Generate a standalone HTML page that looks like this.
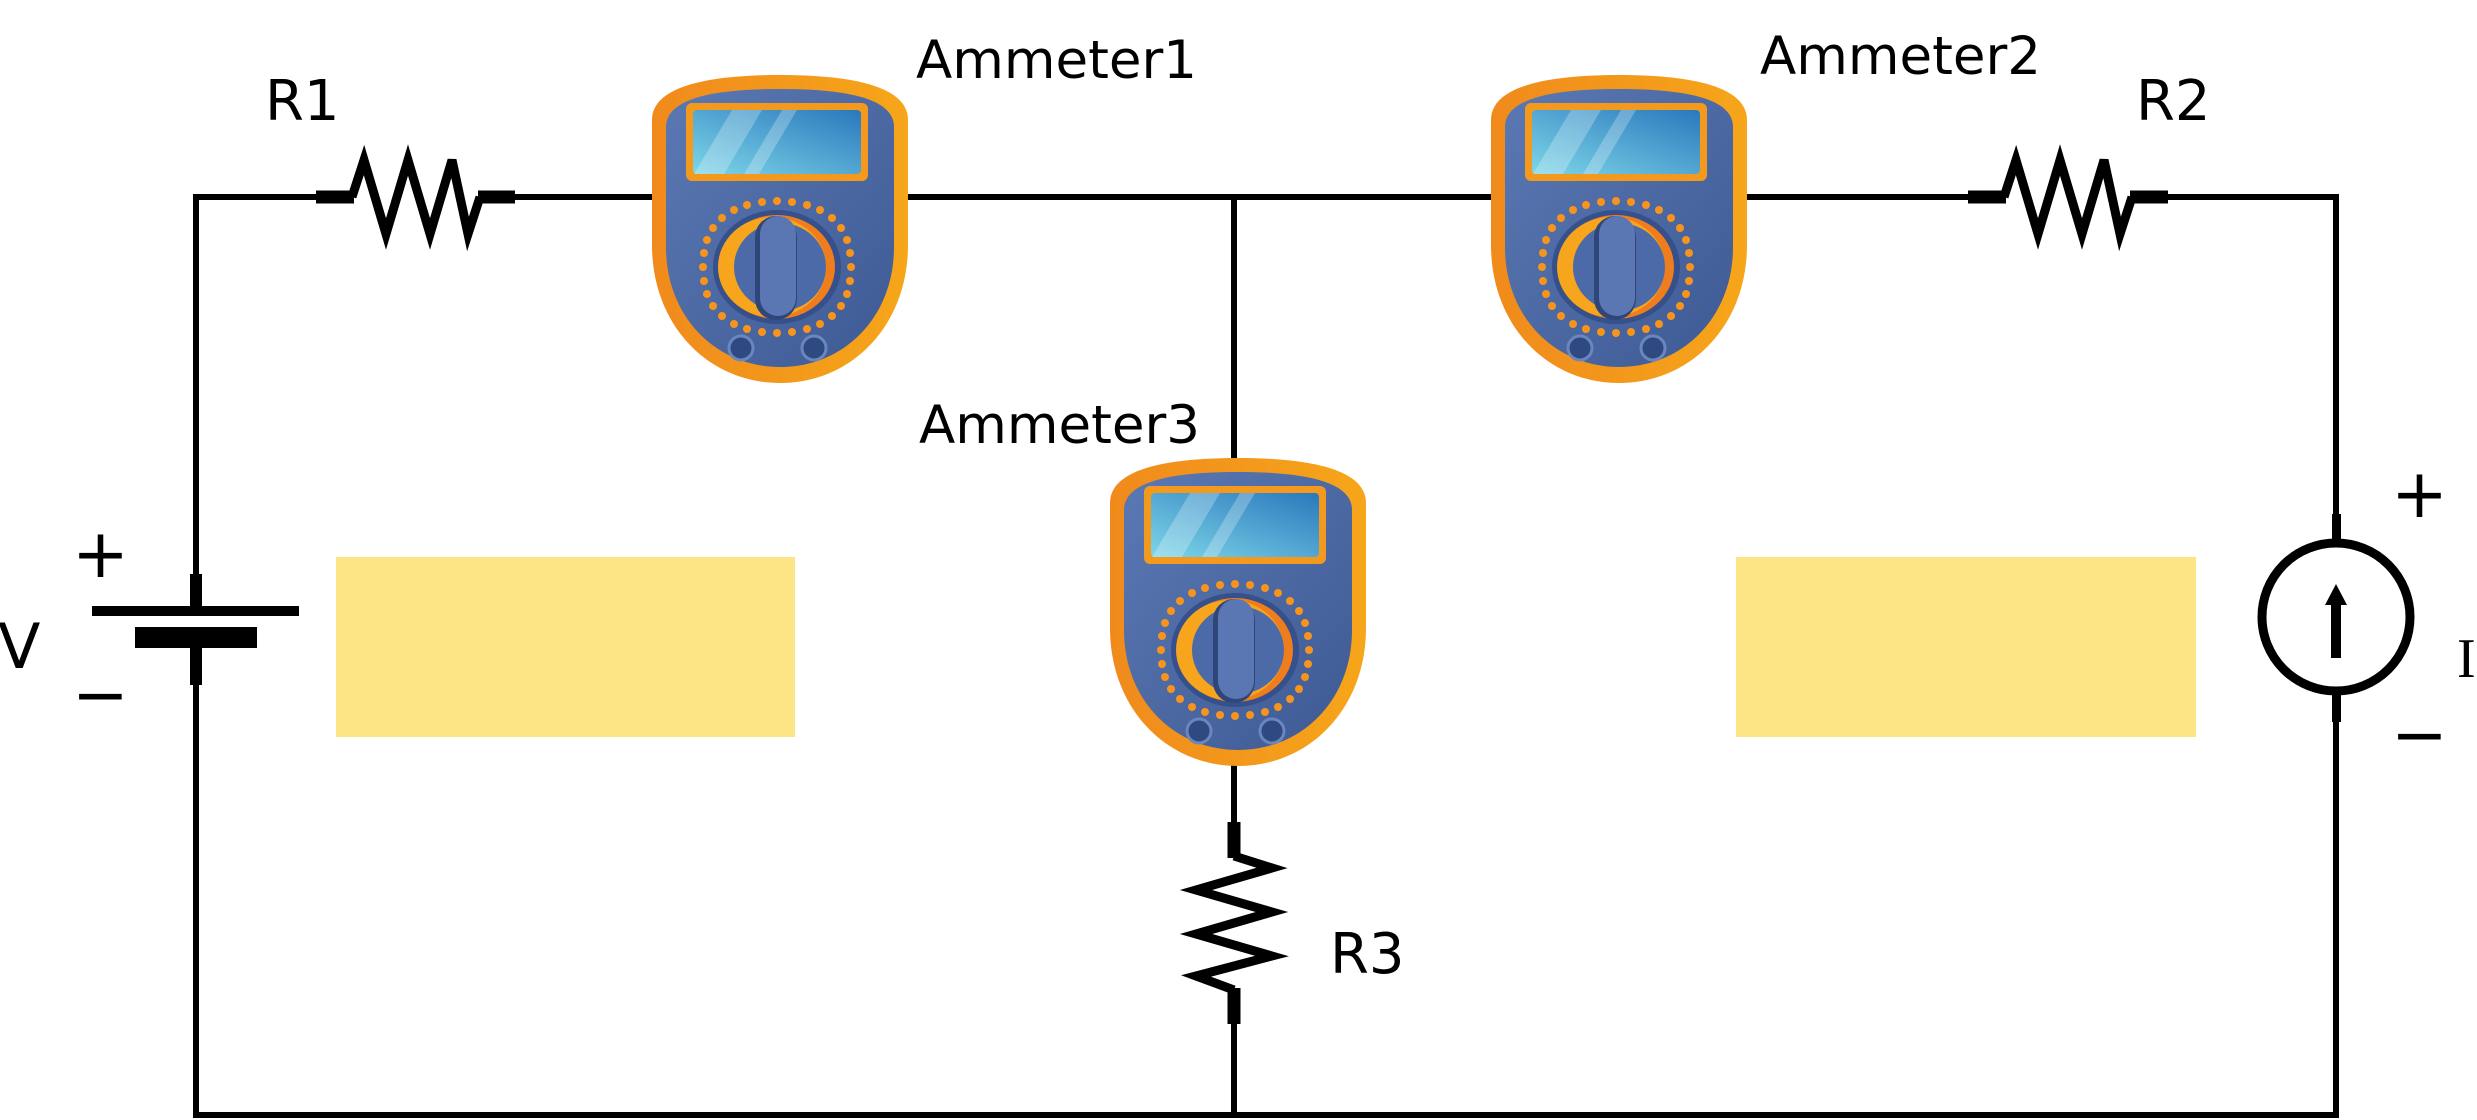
<!DOCTYPE html>
<html><head><meta charset="utf-8"><style>html,body{margin:0;padding:0;background:#fff}svg{display:block}</style></head>
<body>
<svg width="2477" height="1120" viewBox="0 0 2477 1120" xmlns="http://www.w3.org/2000/svg">
<defs>
<linearGradient id="scr" x1="0" y1="1" x2="1" y2="0"><stop offset="0" stop-color="#7dd6e8"/><stop offset="1" stop-color="#2a78bd"/></linearGradient>
<linearGradient id="body" x1="0" y1="0" x2="1" y2="1"><stop offset="0" stop-color="#5a78b3"/><stop offset="1" stop-color="#3e5a94"/></linearGradient>
<linearGradient id="org" x1="0" y1="0" x2="1" y2="0"><stop offset="0" stop-color="#f08a1c"/><stop offset="1" stop-color="#f6a61a"/></linearGradient>
<g id="meter">
<path d="M0 45 C0 10 60 0 128 0 C196 0 256 10 256 45 L256 170 C256 250 200 308 128 308 C56 308 0 250 0 170 Z" fill="url(#org)"/>
<path d="M14 52 C14 22 66 14 128 14 C190 14 242 22 242 52 L242 172 C242 242 192 292 128 292 C64 292 14 242 14 172 Z" fill="url(#body)"/>
<rect x="34" y="28" width="182" height="78" rx="6" fill="#f39a1e"/>
<rect x="41" y="35" width="168" height="64" rx="4" fill="url(#scr)"/>
<polygon points="80,35 110,35 72,99 42,99" fill="#ffffff" opacity="0.25"/>
<polygon points="130,35 145,35 107,99 92,99" fill="#ffffff" opacity="0.25"/>
<g fill="#f7941d">
<circle cx="125" cy="126" r="4"/><circle cx="140" cy="127" r="4"/><circle cx="155" cy="130" r="4"/><circle cx="168" cy="135" r="4"/><circle cx="180" cy="143" r="4"/><circle cx="189" cy="153" r="4"/><circle cx="195" cy="165" r="4"/><circle cx="198" cy="178" r="4"/><circle cx="199" cy="192" r="4"/><circle cx="198" cy="206" r="4"/><circle cx="195" cy="219" r="4"/><circle cx="189" cy="231" r="4"/><circle cx="180" cy="241" r="4"/><circle cx="168" cy="249" r="4"/><circle cx="155" cy="254" r="4"/><circle cx="140" cy="257" r="4"/><circle cx="125" cy="258" r="4"/><circle cx="110" cy="257" r="4"/><circle cx="95" cy="254" r="4"/><circle cx="82" cy="249" r="4"/><circle cx="70" cy="241" r="4"/><circle cx="61" cy="231" r="4"/><circle cx="55" cy="219" r="4"/><circle cx="52" cy="206" r="4"/><circle cx="51" cy="192" r="4"/><circle cx="52" cy="178" r="4"/><circle cx="55" cy="165" r="4"/><circle cx="61" cy="153" r="4"/><circle cx="70" cy="143" r="4"/><circle cx="82" cy="135" r="4"/><circle cx="95" cy="130" r="4"/><circle cx="110" cy="127" r="4"/>
</g>
<ellipse cx="125" cy="192" rx="64" ry="57" fill="#35508a"/>
<ellipse cx="125" cy="192" rx="58" ry="52" fill="#ef7d1e"/>
<ellipse cx="120" cy="192" rx="54" ry="50" fill="#f6a51d"/>
<ellipse cx="128" cy="192" rx="46" ry="44" fill="#4d6aa8"/>
<rect x="103" y="141" width="42" height="104" rx="21" fill="#2e4679"/>
<rect x="108" y="141" width="36" height="100" rx="18" fill="#5a77b3"/>
<circle cx="89" cy="273" r="12" fill="#2f4a80" stroke="#6a86bf" stroke-width="3"/>
<circle cx="162" cy="273" r="12" fill="#2f4a80" stroke="#6a86bf" stroke-width="3"/>
</g>
</defs>
<g stroke="#000" stroke-width="6" fill="none">
<line x1="196" y1="197" x2="320" y2="197"/>
<line x1="511" y1="197" x2="1972" y2="197"/>
<line x1="2164" y1="197" x2="2336" y2="197"/>
<line x1="196" y1="194" x2="196" y2="578"/>
<line x1="196" y1="682" x2="196" y2="1118"/>
<line x1="2336" y1="194" x2="2336" y2="518"/>
<line x1="2336" y1="716" x2="2336" y2="1118"/>
<line x1="193" y1="1115" x2="2339" y2="1115"/>
<line x1="1234" y1="197" x2="1234" y2="470"/>
<line x1="1234" y1="760" x2="1234" y2="826"/>
<line x1="1234" y1="1020" x2="1234" y2="1115"/>
</g>
<!-- R1 -->
<g stroke="#000" fill="none" stroke-linejoin="miter">
<line x1="316" y1="197" x2="354" y2="197" stroke-width="13"/>
<polyline points="352,197 364,160 386,234 408,160 430,234 452,160 468,234 480,197" stroke-width="9"/>
<line x1="478" y1="197" x2="515" y2="197" stroke-width="13"/>
<line x1="1968" y1="197" x2="2006" y2="197" stroke-width="13"/>
<polyline points="2004,197 2016,160 2038,234 2060,160 2082,234 2104,160 2120,234 2132,197" stroke-width="9"/>
<line x1="2130" y1="197" x2="2168" y2="197" stroke-width="13"/>
<line x1="1234" y1="822" x2="1234" y2="858" stroke-width="13"/>
<polyline points="1234,856 1272,868 1196,890 1272,912 1196,934 1272,956 1196,976 1234,990" stroke-width="9"/>
<line x1="1234" y1="988" x2="1234" y2="1024" stroke-width="13"/>
</g>
<!-- battery -->
<rect x="190" y="574" width="12" height="40" fill="#000"/>
<rect x="92" y="606" width="207" height="10" fill="#000"/>
<rect x="135" y="627" width="122" height="21" fill="#000"/>
<rect x="190" y="645" width="12" height="40" fill="#000"/>
<!-- current source -->
<rect x="2332" y="514" width="9" height="30" fill="#000"/>
<rect x="2332" y="692" width="9" height="30" fill="#000"/>
<circle cx="2336" cy="617" r="74" fill="#fff" stroke="#000" stroke-width="9"/>
<rect x="2331" y="600" width="10" height="58" fill="#000"/>
<polygon points="2336,584 2325,605 2347,605" fill="#000"/>
<!-- yellow boxes -->
<rect x="336" y="557" width="459" height="180" fill="#fde484"/>
<rect x="1736" y="557" width="460" height="180" fill="#fde484"/>
<!-- meters -->
<use href="#meter" x="652" y="75"/>
<use href="#meter" x="1491" y="75"/>
<use href="#meter" x="1110" y="458"/>
<g font-family="'DejaVu Sans', 'Liberation Sans', sans-serif" fill="#000">
<text x="916" y="78" font-size="53">Ammeter1</text>
<text x="1760" y="74" font-size="53">Ammeter2</text>
<text x="919" y="443" font-size="53">Ammeter3</text>
<text x="265" y="120" font-size="56">R1</text>
<text x="2136" y="120" font-size="56">R2</text>
<text x="1330" y="973" font-size="56">R3</text>
<text x="-2" y="668" font-size="62">V</text>
<text x="72" y="577" font-size="68">+</text>
<text x="72" y="718" font-size="68">−</text>
<text x="2391" y="517" font-size="68">+</text>
<text x="2391" y="758" font-size="68">−</text>
</g>
<text x="2457" y="677" font-family="'Liberation Serif', serif" font-size="56" fill="#000">I</text>
</svg>
</body></html>
